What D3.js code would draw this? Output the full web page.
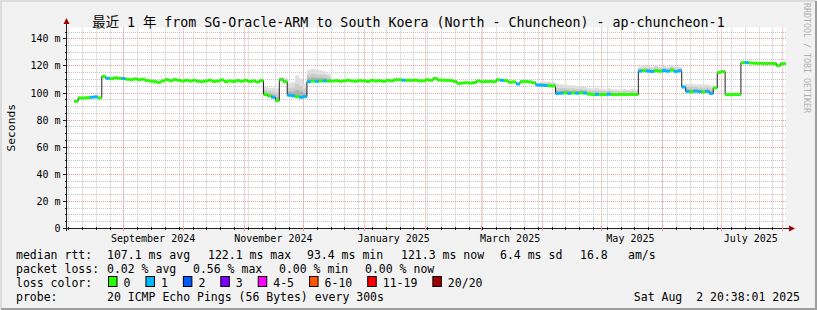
<!DOCTYPE html>
<html>
<head>
<meta charset="utf-8">
<script src="https://cdn.jsdelivr.net/npm/d3@7"></script>
<style>
body { margin: 0; background: #fff; }
svg text { font-family: "DejaVu Sans Mono", "Noto Sans CJK SC", monospace; white-space: pre; }
</style>
</head>
<body>
<svg id="chart" width="817" height="310"></svg>
<script>
// ---- data (one sample every 2 days) ----
var startDate = new Date(2024, 7, 7);
var stepDays = 2;
var rangeStart = new Date(2024, 7, 2, 20, 38, 1);
var rangeEnd = new Date(2025, 7, 2, 20, 38, 1);

var median = [
    93.5, 96.0, 96.0, 96.2, 96.5, 96.8, 96.0, 111.8, 110.5, 110.2,
    110.8, 110.5, 110.3, 109.8, 109.5, 110.0, 109.5, 109.8, 108.8, 108.5,
    108.0, 107.5, 108.5, 109.5, 108.7, 109.5, 109.0, 108.5, 109.0, 108.5,
    109.0, 108.3, 108.0, 108.5, 109.0, 108.2, 108.5, 109.3, 108.0, 108.5,
    108.2, 108.8, 108.4, 109.0, 108.2, 108.5, 107.8, 108.8, 98.5, 97.5,
    96.5, 94.0, 109.5, 108.0, 98.0, 97.5, 97.0, 96.5, 97.0, 108.0,
    108.5, 108.3, 108.5, 108.6, 108.4, 108.5, 108.8, 108.3, 108.6, 109.0,
    108.5, 108.4, 108.8, 108.6, 108.2, 109.0, 108.5, 108.7, 108.3, 109.0,
    108.6, 109.4, 109.4, 109.1, 109.0, 109.0, 109.1, 108.7, 108.6, 109.4,
    109.0, 110.5, 109.2, 109.1, 109.0, 108.8, 108.2, 106.8, 107.0, 107.2,
    107.0, 107.3, 108.5, 108.0, 108.1, 108.2, 108.0, 109.4, 109.0, 108.8,
    107.6, 107.8, 106.3, 108.0, 108.1, 107.8, 107.2, 105.6, 105.4, 105.2,
    105.0, 104.8, 99.3, 99.5, 99.8, 99.4, 99.7, 99.5, 99.8, 99.6,
    98.8, 98.5, 98.6, 98.4, 98.5, 98.7, 98.5, 98.4, 98.6, 98.5,
    98.5, 98.6, 98.5, 115.8, 116.2, 115.8, 115.5, 116.0, 115.7, 116.2,
    115.8, 116.5, 115.6, 116.0, 104.0, 100.8, 100.5, 101.0, 100.6, 100.4,
    100.8, 99.3, 103.4, 114.8, 115.5, 98.5, 98.4, 98.6, 98.5, 122.0,
    122.1, 121.8, 121.6, 121.5, 121.5, 121.4, 121.5, 121.4, 119.8, 121.3,
    121.3
];

// lost pings out of 20 for each sample
var lossCount = [
    0, 0, 0, 0, 1, 1, 0, 0, 1, 0,
    0, 0, 1, 0, 0, 0, 0, 0, 0, 0,
    0, 0, 0, 0, 0, 0, 0, 0, 0, 0,
    0, 0, 0, 0, 0, 0, 0, 0, 0, 0,
    0, 0, 0, 0, 0, 0, 0, 0, 0, 0,
    1, 0, 0, 0, 1, 1, 0, 1, 1, 1,
    0, 1, 0, 1, 0, 0, 0, 0, 0, 0,
    0, 0, 0, 0, 0, 0, 0, 0, 0, 0,
    0, 0, 0, 1, 0, 0, 0, 0, 0, 0,
    0, 0, 0, 0, 0, 0, 0, 0, 0, 0,
    0, 0, 0, 0, 0, 0, 0, 0, 1, 0,
    0, 0, 1, 0, 0, 0, 0, 1, 1, 1,
    0, 0, 1, 1, 0, 1, 0, 1, 0, 1,
    0, 0, 1, 0, 0, 1, 0, 0, 0, 0,
    0, 0, 0, 1, 0, 1, 1, 0, 0, 1,
    1, 0, 1, 1, 1, 1, 0, 1, 1, 0,
    1, 1, 0, 0, 0, 0, 0, 0, 0, 0,
    1, 0, 0, 0, 0, 0, 0, 0, 0, 0,
    0
];

// how far the smoke (ping spread) reaches above the median, ms
var smokeSpread = [
    1, 1, 1, 1, 1, 1, 1, 1.5, 1, 1,
    1, 1, 1, 1, 1, 1, 1, 1, 1, 1,
    1, 1, 1, 1, 1, 1, 1, 1, 1, 1,
    1, 1, 1, 1, 1, 1, 1, 1, 1, 1,
    1, 1, 1, 1, 1, 1, 1, 1, 5.5, 6,
    7, 9, 2, 3, 8.6, 10.3, 15.7, 13.8, 9.6, 8.5,
    9, 8.5, 8, 7, 5.5, 1, 1, 1, 1, 1,
    1, 1, 1, 1, 1, 1, 1, 1, 1, 1,
    1, 1, 1, 1, 1, 1, 1, 1, 1, 1,
    1, 1, 1, 1, 1, 1, 1, 1, 1, 1,
    1, 1, 1, 1, 1, 1, 1, 1, 1, 1,
    1, 1, 1, 1, 1, 1, 1, 1, 2.6, 2.8,
    3, 3.2, 7, 6.5, 6, 6, 5.5, 5, 5, 4.5,
    4.5, 4.5, 5, 4.5, 4, 4.5, 4, 4, 3.5, 4,
    3.5, 4, 3.5, 3.5, 3.5, 4, 3.5, 4, 3.5, 3.5,
    3, 4, 3.5, 3, 2, 5.5, 6, 5, 5.5, 5.5,
    5, 6, 1, 1, 1, 1, 1, 1, 1, 1,
    1, 1, 1, 1, 1, 1, 1, 1, 1, 1,
    1
];

var yTicks = [0, 20, 40, 60, 80, 100, 120, 140];
var lossLabels = ["0", "1", "2", "3", "4-5", "6-10", "11-19", "20/20"];
var lossColors = ["#26ff00", "#00b8ff", "#0059ff", "#7e00ff", "#ff00ff", "#ff5500", "#ff0000", "#a00000"];
var lossBuckets = [0, 1, 2, 3, 5, 10, 19, 20];   // upper bound of each bucket

var titleText = "最近 1 年 from SG-Oracle-ARM to South Koera (North - Chuncheon) - ap-chuncheon-1";
var rttStats = ["107.1 ms avg", "122.1 ms max", "93.4 ms min", "121.3 ms now", "6.4 ms sd", "16.8", "am/s"];
var lossStats = ["0.02 % avg", "0.56 % max", "0.00 % min", "0.00 % now"];
var probeText = "20 ICMP Echo Pings (56 Bytes) every 300s";
var stampText = "Sat Aug  2 20:38:01 2025";

// ---- layout ----
var W = 817, H = 310;
var pLeft = 66, pRight = 786, pTop = 27.5, pBottom = 228;
var rttX = [107, 208, 307, 401, 500, 580, 628];
var lossX = [107, 193, 279, 365];

var svg = d3.select("#chart");

svg.append("rect").attr("width", W).attr("height", H).attr("fill", "#f2f2f2");
// 3d frame
svg.append("path").attr("d", "M1,309V1H816").attr("stroke", "#dcdcdc").attr("stroke-width", 2).attr("fill", "none");
svg.append("path").attr("d", "M1,309H816V1").attr("stroke", "#9e9e9e").attr("stroke-width", 2).attr("fill", "none");

svg.append("rect").attr("x", pLeft + 1).attr("y", pTop).attr("width", pRight - pLeft - 1).attr("height", pBottom - pTop)
    .attr("fill", "#ffffff");

var x = d3.scaleTime().domain([rangeStart, rangeEnd]).range([pLeft, pRight]);
var y = d3.scaleLinear().domain([0, 148]).range([pBottom, pTop]);

var grid = svg.append("g");

// minor horizontal grid every 5 ms
d3.range(5, 148, 5).forEach(function(v){
    if (v % 20 == 0) return;
    var py = Math.round(y(v)) + 0.5;
    grid.append("line").attr("x1", pLeft + 1).attr("x2", pRight).attr("y1", py).attr("y2", py)
        .attr("stroke", "#c4c4c4").attr("stroke-dasharray", "1,1");
});
// weekly vertical grid
d3.timeSunday.range(rangeStart, rangeEnd).forEach(function(d){
    var px = Math.round(x(d)) + 0.5;
    grid.append("line").attr("x1", px).attr("x2", px).attr("y1", pTop).attr("y2", pBottom)
        .attr("stroke", "#c4c4c4").attr("stroke-dasharray", "1,1");
});
// major grid
yTicks.forEach(function(v){
    if (v == 0) return;
    var py = Math.round(y(v)) + 0.5;
    grid.append("line").attr("x1", pLeft + 1).attr("x2", pRight).attr("y1", py).attr("y2", py)
        .attr("stroke", "#ef9a9a").attr("stroke-dasharray", "1,1");
});
var months = d3.timeMonth.range(d3.timeMonth.ceil(rangeStart), rangeEnd);
months.forEach(function(d){
    var px = Math.round(x(d)) + 0.5;
    grid.append("line").attr("x1", px).attr("x2", px).attr("y1", pTop).attr("y2", pBottom)
        .attr("stroke", "#ef9a9a").attr("stroke-dasharray", "1,1");
});

// ---- data marks ----
svg.append("clipPath").attr("id", "plotClip").append("rect")
    .attr("x", pLeft + 1).attr("y", pTop).attr("width", pRight - pLeft - 1).attr("height", pBottom - pTop);

var samples = median.map(function(m, i){
    return {
        t0: d3.timeDay.offset(startDate, i * stepDays),
        t1: d3.timeDay.offset(startDate, (i + 1) * stepDays),
        med: m,
        hi: m + smokeSpread[i],
        loss: lossCount[i]
    };
});

var plot = svg.append("g").attr("clip-path", "url(#plotClip)");

// smoke, light outside to dark near the median
var smokeLayers = [[1.0, "#dedede"], [0.6, "#cbcbcb"], [0.3, "#b0b0b0"]];
smokeLayers.forEach(function(layer){
    plot.append("g").selectAll("rect").data(samples).enter().append("rect")
        .attr("x", function(d){ return x(d.t0); })
        .attr("width", function(d){ return x(d.t1) - x(d.t0); })
        .attr("y", function(d){ return y(d.med + (d.hi - d.med) * layer[0]); })
        .attr("height", function(d){ return y(d.med) - y(d.med + (d.hi - d.med) * layer[0]); })
        .attr("fill", layer[1]);
});

var medLine = d3.line()
    .x(function(d){ return x(d.t0); })
    .y(function(d){ return y(d.med); })
    .curve(d3.curveStepAfter);
plot.append("path").datum(samples.concat([{t0: samples[samples.length - 1].t1, med: median[median.length - 1]}]))
    .attr("d", medLine).attr("fill", "none").attr("stroke", "#202020").attr("stroke-width", 1);

function lossColor(n){
    for (var j = 0; j < lossBuckets.length; j++){
        if (n <= lossBuckets[j]) return lossColors[j];
    }
    return lossColors[lossColors.length - 1];
}

plot.append("g").selectAll("rect").data(samples).enter().append("rect")
    .attr("x", function(d){ return x(d.t0); })
    .attr("width", function(d){ return x(d.t1) - x(d.t0); })
    .attr("y", function(d){ return y(d.med) - 1.5; })
    .attr("height", 3)
    .attr("fill", function(d){ return lossColor(d.loss); });

// ---- axes ----
var axisCol = "#202020";
yTicks.forEach(function(v){
    var py = Math.round(y(v)) + 0.5;
    svg.append("line").attr("x1", pLeft - 3).attr("x2", pLeft + 1).attr("y1", py).attr("y2", py).attr("stroke", axisCol);
    svg.append("text").attr("x", 60.5).attr("y", py + 3.5).attr("text-anchor", "end")
        .style("font-size", "10px").attr("fill", "#000")
        .text(v == 0 ? "0" : v + " m");
});
d3.range(5, 148, 5).forEach(function(v){
    if (v % 20 == 0) return;
    var py = Math.round(y(v)) + 0.5;
    svg.append("line").attr("x1", pLeft - 1).attr("x2", pLeft + 1).attr("y1", py).attr("y2", py).attr("stroke", axisCol);
});

svg.append("line").attr("x1", pLeft + 0.5).attr("x2", pLeft + 0.5).attr("y1", pBottom + 3).attr("y2", 22).attr("stroke", axisCol);
svg.append("line").attr("x1", pLeft - 3).attr("x2", pRight + 4).attr("y1", pBottom + 0.5).attr("y2", pBottom + 0.5).attr("stroke", axisCol);
svg.append("path").attr("d", "M" + (pLeft - 2.5) + ",24L" + (pLeft + 0.5) + ",18L" + (pLeft + 3.5) + ",24Z").attr("fill", "#a00000");
svg.append("path").attr("d", "M" + (pRight + 3) + "," + (pBottom - 2.5) + "L" + (pRight + 9) + "," + (pBottom + 0.5) + "L" + (pRight + 3) + "," + (pBottom + 3.5) + "Z").attr("fill", "#a00000");

d3.timeSunday.range(rangeStart, rangeEnd).forEach(function(d){
    var px = Math.round(x(d)) + 0.5;
    svg.append("line").attr("x1", px).attr("x2", px).attr("y1", pBottom - 1).attr("y2", pBottom + 2).attr("stroke", axisCol);
});
months.forEach(function(d, i){
    var px = Math.round(x(d)) + 0.5;
    svg.append("line").attr("x1", px).attr("x2", px).attr("y1", pBottom - 2).attr("y2", pBottom + 3).attr("stroke", "#ef9a9a");
    if (i % 2 == 0) {
        svg.append("text").attr("x", x(d3.timeDay.offset(d, 15))).attr("y", 241.5)
            .attr("text-anchor", "middle").style("font-size", "10px")
            .text(d3.timeFormat("%B %Y")(d));
    }
});

// titles
svg.append("text").attr("x", 408.5).attr("y", 27).attr("text-anchor", "middle")
    .style("font-size", "13.3px").text(titleText);
svg.append("text").attr("transform", "translate(15," + ((pTop + pBottom) / 2) + ") rotate(-90)")
    .attr("text-anchor", "middle").style("font-size", "11.3px").text("Seconds");
svg.append("text").attr("transform", "translate(803.5,3) rotate(90)")
    .style("font-size", "8.3px").attr("fill", "#b0b0b0").text("RRDTOOL / TOBI OETIKER");

// ---- legend ----
var lg = svg.append("g").style("font-size", "11.5px");
lg.append("text").attr("x", 16).attr("y", 258.5).text("median rtt:");
rttStats.forEach(function(s, i){
    lg.append("text").attr("x", rttX[i]).attr("y", 258.5).text(s);
});
lg.append("text").attr("x", 16).attr("y", 272.5).text("packet loss:");
lossStats.forEach(function(s, i){
    lg.append("text").attr("x", lossX[i]).attr("y", 272.5).text(s);
});
lg.append("text").attr("x", 16).attr("y", 286.5).text("loss color:");
var bx = 108.5;
lossLabels.forEach(function(s, i){
    lg.append("rect").attr("x", bx).attr("y", 276.5).attr("width", 8.5).attr("height", 10)
        .attr("fill", lossColors[i]).attr("stroke", "#000");
    var t = lg.append("text").attr("x", bx + 15).attr("y", 286.5).text(s);
    bx = bx + 15 + t.node().getComputedTextLength() + 15.5;
});
lg.append("text").attr("x", 16).attr("y", 300.5).text("probe:");
lg.append("text").attr("x", 107).attr("y", 300.5).text(probeText);
lg.append("text").attr("x", 800).attr("y", 300.5).attr("text-anchor", "end").text(stampText);
</script>
</body>
</html>
